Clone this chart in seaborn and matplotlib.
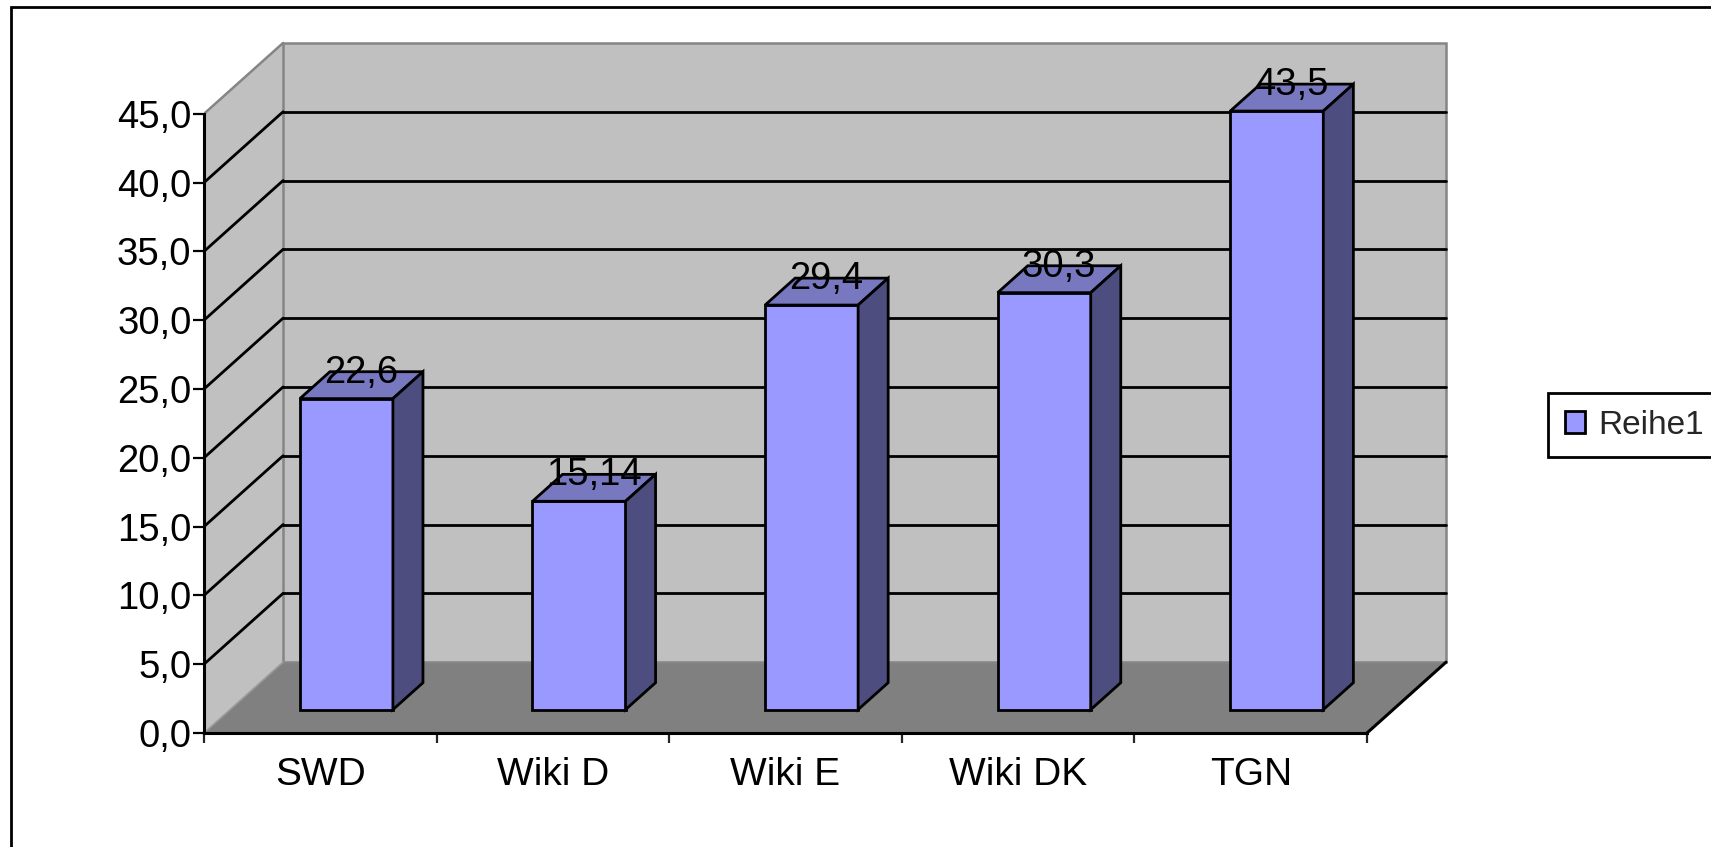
import matplotlib
matplotlib.use('Agg')
import matplotlib.pyplot as plt
from matplotlib.patches import Polygon, Rectangle
from matplotlib.transforms import Affine2D
import seaborn as sns
import numpy as np

# data
categories = ['SWD', 'Wiki D', 'Wiki E', 'Wiki DK', 'TGN']
values = [22.6, 15.14, 29.4, 30.3, 43.5]
value_labels = ['22,6', '15,14', '29,4', '30,3', '43,5']
series_name = 'Reihe1'
y_ticks = [0, 5, 10, 15, 20, 25, 30, 35, 40, 45]
y_tick_labels = ['0,0', '5,0', '10,0', '15,0', '20,0', '25,0', '30,0', '35,0', '40,0', '45,0']

W, H = 1711, 847
sns.set_style('white')
plt.rcParams['font.family'] = ['Liberation Sans', 'DejaVu Sans']

fig = plt.figure(figsize=(W / 100, H / 100), dpi=100)

# pixel scale of the front plane
px_x, px_y = 232.6, 13.76
x0_px, y0_px = 204, 733
n = len(categories)
x_lo, x_hi = -0.5, n - 0.5
y_top = y_ticks[-1]
DX, DY = 0.34, 5.15     # depth of the 3d box in data units
F0, FB = 0.33, 0.38     # bar front position / bar depth as fraction of box depth
xlim = (x_lo, x_hi + DX + 0.01)
ylim = (0, y_top + DY + 0.4)
ax = fig.add_axes([x0_px / W, (H - y0_px) / H,
                   (xlim[1] - xlim[0]) * px_x / W, (ylim[1] - ylim[0]) * px_y / H])

# walls and floor
ax.add_patch(Polygon([(x_lo, 0), (x_hi, 0), (x_hi + DX, DY), (x_lo + DX, DY)],
                     fc='#808080', ec='none', zorder=0))
ax.add_patch(Polygon([(x_lo, 0), (x_lo + DX, DY), (x_lo + DX, y_top + DY), (x_lo, y_top)],
                     fc='#c0c0c0', ec='none', zorder=0))
ax.add_patch(Rectangle((x_lo + DX, DY), x_hi - x_lo, y_top, fc='#c0c0c0',
                       ec='#858585', lw=1.8, zorder=0.5))
for v in y_ticks[1:-1]:
    ax.plot([x_lo + DX, x_hi + DX], [v + DY, v + DY], color='black', lw=2, zorder=1)
    ax.plot([x_lo, x_lo + DX], [v, v + DY], color='black', lw=2, zorder=1)
ax.plot([x_lo, x_lo + DX], [y_top, y_top + DY], color='#858585', lw=1.8, zorder=1)
ax.plot([x_lo, x_lo + DX], [0, DY], color='#9a9a9a', lw=1.2, zorder=1)
ax.plot([x_hi, x_hi + DX], [0, DY], color='black', lw=2.2, zorder=1)

# front faces of the bars
sns.barplot(x=categories, y=values, color='#9999ff', saturation=1, width=0.4,
            edgecolor='black', linewidth=2, label=series_name, ax=ax, zorder=3)
if ax.get_legend() is not None:
    ax.get_legend().remove()

shift = Affine2D().translate(F0 * DX, F0 * DY) + ax.transData
for p, lab in zip(ax.containers[0].patches, value_labels):
    p.set_transform(shift)
    w, h = p.get_width(), p.get_height()
    xa = p.get_x() + F0 * DX
    xb = xa + w
    yb = F0 * DY
    yt = yb + h
    ddx, ddy = FB * DX, FB * DY
    ax.add_patch(Polygon([(xa, yt), (xb, yt), (xb + ddx, yt + ddy), (xa + ddx, yt + ddy)],
                         fc='#7878c0', ec='black', lw=2, joinstyle='miter', zorder=3))
    ax.add_patch(Polygon([(xb, yb), (xb, yt), (xb + ddx, yt + ddy), (xb + ddx, yb + ddy)],
                         fc='#4d4d80', ec='black', lw=2, joinstyle='miter', zorder=3))
    ax.text(xa + w / 2 + ddx / 2, yt + 1.15, lab, ha='center', va='baseline',
            fontsize=27.5, color='black', zorder=5)

ax.set_xlim(*xlim)
ax.set_ylim(*ylim)
ax.set_xlabel('')
ax.set_ylabel('')

for s in ['top', 'right']:
    ax.spines[s].set_visible(False)
ax.spines['left'].set_bounds(0, y_top)
ax.spines['bottom'].set_bounds(x_lo, x_hi)
for s in ['left', 'bottom']:
    ax.spines[s].set_color('black')
    ax.spines[s].set_linewidth(2.2)
    ax.spines[s].set_zorder(2)

ax.set_yticks(y_ticks, y_tick_labels)
ax.tick_params(axis='y', direction='out', length=8, width=1.6, pad=1,
               labelsize=27.5, colors='black', left=True)
ax.set_xticks(np.arange(n + 1) - 0.5, [''] * (n + 1))
ax.set_xticks(np.arange(n), categories, minor=True)
ax.tick_params(axis='x', which='major', direction='out', length=7, width=1.6, bottom=True)
ax.tick_params(axis='x', which='minor', length=0, pad=17, labelsize=28, colors='black')
ax.patch.set_visible(False)

# outer chart frame (cropped at right and bottom)
fig.add_artist(Rectangle((11 / W, -0.1), 1.2, 1 - 7 / H + 0.1, transform=fig.transFigure,
                         fill=False, ec='black', lw=2))

handles, labels = ax.get_legend_handles_labels()
leg = fig.legend(handles, labels, loc='upper left', bbox_to_anchor=(1548 / W, 1 - 393 / H),
                 fontsize=24, handlelength=0.6, handleheight=0.62, handletextpad=0.4,
                 borderpad=0.5, borderaxespad=0, fancybox=False, framealpha=1)
leg.get_frame().set_edgecolor('black')
leg.get_frame().set_linewidth(2)

fig.savefig('out.png', dpi=100)
